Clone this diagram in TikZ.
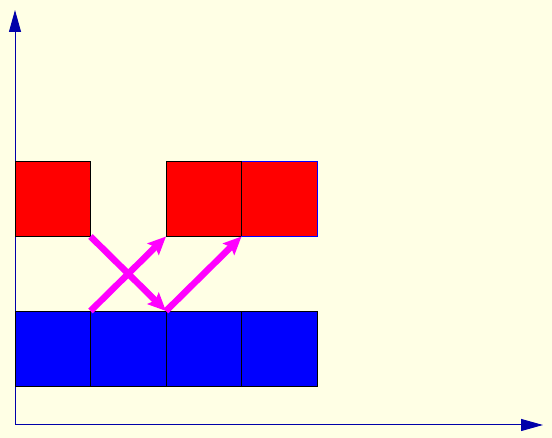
\documentclass[tikz,border=0pt]{standalone}
\usetikzlibrary{arrows.meta}
\definecolor{bg}{RGB}{255,255,229}
\definecolor{axisblue}{RGB}{0,0,170}
\definecolor{mag}{RGB}{255,0,255}
\begin{document}
\begin{tikzpicture}[x=1pt,y=-1pt,
  sq/.style={draw=black,line width=0.8pt,minimum size=75.5pt,inner sep=0pt,outer sep=0pt},
  redsq/.style={sq,fill=red},
  bluesq/.style={sq,fill=blue},
  axis/.style={draw=axisblue,line width=1pt,-{Triangle[length=22pt,width=12pt]}},
  mv/.style={draw=mag,line width=6.5pt,-{Stealth[length=18pt,width=16pt,inset=3pt]}}]
\fill[bg] (0,0) rectangle (552,438);
\useasboundingbox (0,0) rectangle (552,438);
\coordinate (O) at (15,425);
\coordinate (Ytop) at (15,10);
\coordinate (Xend) at (543,425);
\draw[axis] (O) -- (Ytop);
\draw[axis] (O) -- (Xend);
\node[redsq] (r1) at (52.75,198.75) {};
\node[redsq] (r2) at (203.75,198.75) {};
\node[redsq,draw=blue] (r3) at (279.25,198.75) {};
\draw[black,line width=0.8pt] (r3.north west) -- (r3.south west);
\node[bluesq] (b1) at (52.75,348.75) {};
\node[bluesq] (b2) at (128.25,348.75) {};
\node[bluesq] (b3) at (203.75,348.75) {};
\node[bluesq] (b4) at (279.25,348.75) {};
\draw[mv] (r1.south east) -- (b3.north west);
\draw[mv] (b2.north west) -- (r2.south west);
\draw[mv] (b3.north west) -- (r3.south west);
\end{tikzpicture}
\end{document}
